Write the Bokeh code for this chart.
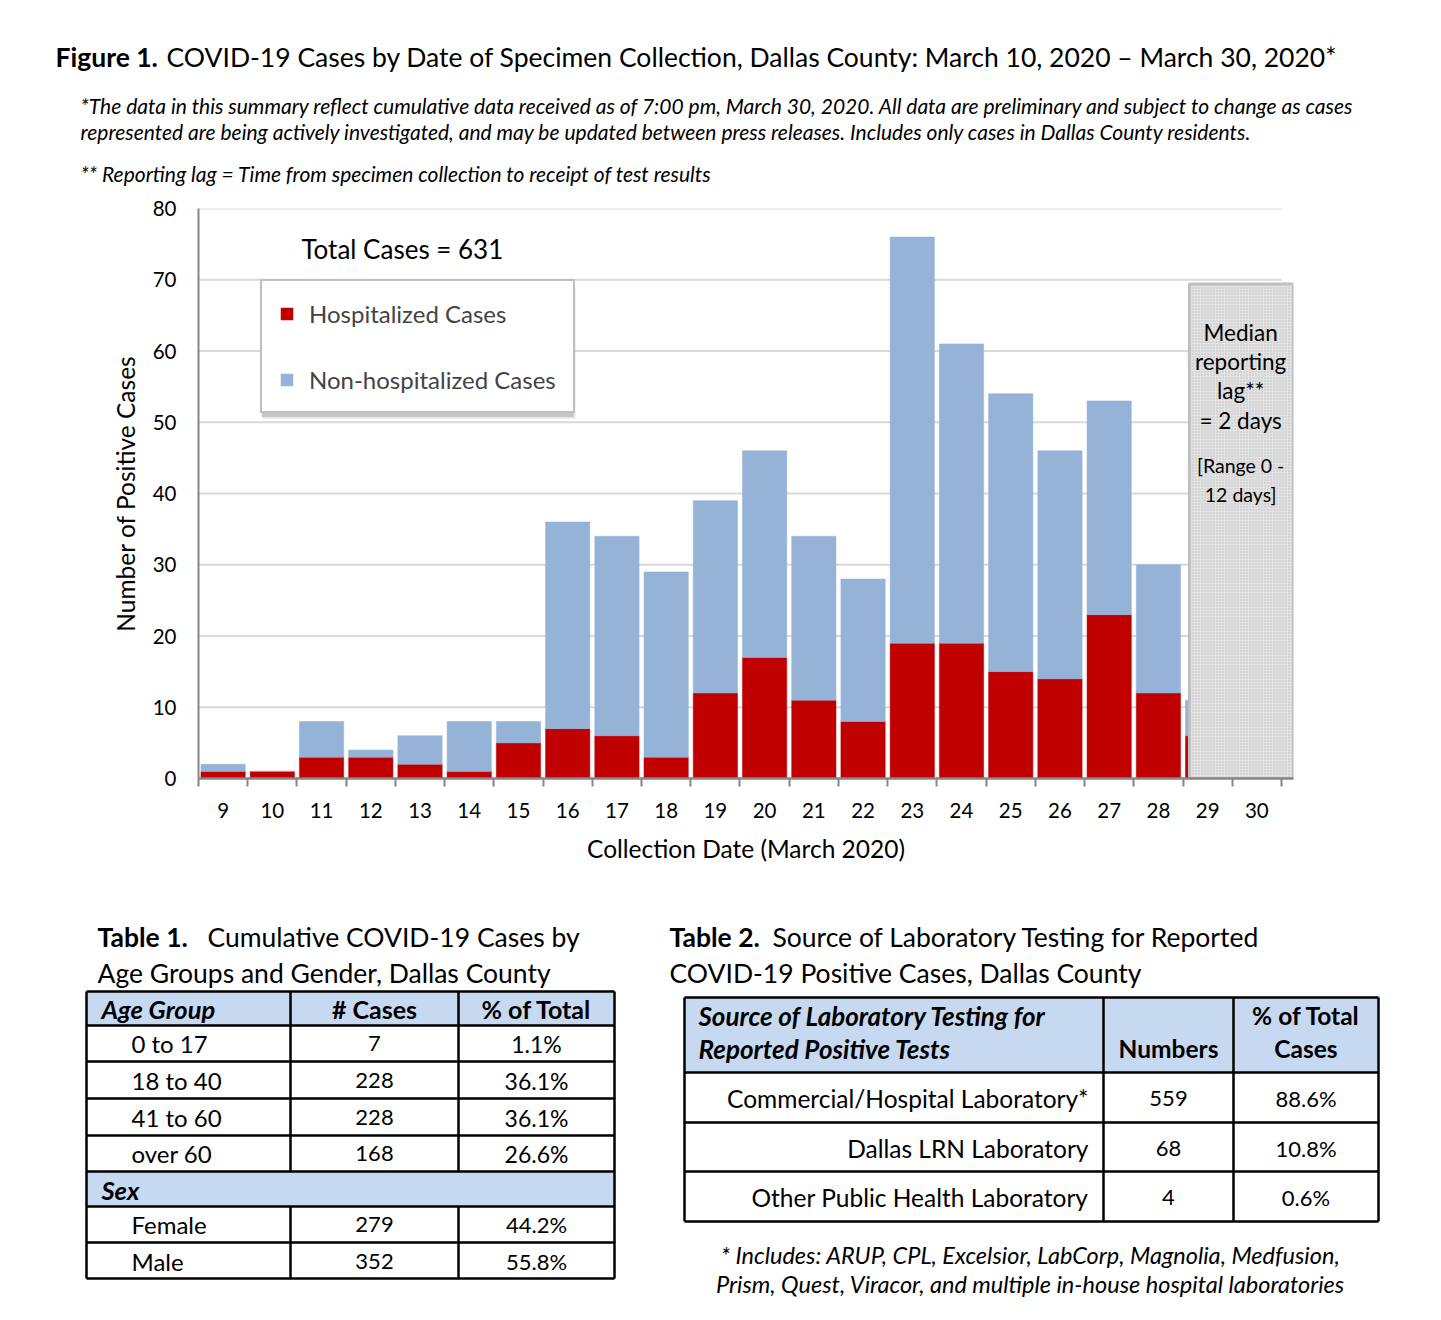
from bokeh.plotting import figure
from bokeh.models import ColumnDataSource, Range1d, FixedTicker, Legend, LegendItem, Label
from bokeh.layouts import column
from bokeh.embed import file_html
from bokeh.resources import INLINE
from bokeh.core.properties import value

FONT = "Lato"

# ---------------- data ----------------
days = [9, 10, 11, 12, 13, 14, 15, 16, 17, 18, 19, 20, 21, 22, 23, 24, 25, 26, 27, 28, 29, 30]
hospitalized = [1, 1, 3, 3, 2, 1, 5, 7, 6, 3, 12, 17, 11, 8, 19, 19, 15, 14, 23, 12, 6, 0]
non_hospitalized = [1, 0, 5, 1, 4, 7, 3, 29, 28, 26, 27, 29, 23, 20, 57, 42, 39, 32, 30, 18, 5, 0]
y_ticks = [0, 10, 20, 30, 40, 50, 60, 70, 80]
series_names = ["Hospitalized Cases", "Non-hospitalized Cases"]
total_cases = 631

age_groups = ["0 to 17", "18 to 40", "41 to 60", "over 60"]
age_cases = ["7", "228", "228", "168"]
age_pct = ["1.1%", "36.1%", "36.1%", "26.6%"]
sex_groups = ["Female", "Male"]
sex_cases = ["279", "352"]
sex_pct = ["44.2%", "55.8%"]

lab_sources = ["Commercial/Hospital Laboratory*", "Dallas LRN Laboratory", "Other Public Health Laboratory"]
lab_numbers = ["559", "68", "4"]
lab_pct = ["88.6%", "10.8%", "0.6%"]

RED = "#C00000"
BLUE = "#95B3D7"
HDR = "#C6D9F1"
W = 1436


def blank(h):
    p = figure(width=W, height=h, x_range=Range1d(0, W), y_range=Range1d(h, 0),
               output_backend="svg", toolbar_location=None, title=None,
               x_axis_type=None, y_axis_type=None, min_border=0,
               outline_line_color=None, frame_align=False)
    p.grid.visible = False
    return p


def txt(p, x, y, s, size, style="normal", align="left", color="#000000"):
    if not isinstance(s, list):
        s = [s]
    if not isinstance(x, list):
        x = [x] * len(s)
    if not isinstance(y, list):
        y = [y] * len(s)
    p.text(x=x, y=y, text=s, text_font=value(FONT), text_font_size=f"{size}px",
           text_font_style=style, text_align=align, text_baseline="middle",
           text_color=color)


# ---------------- header ----------------
hd = blank(190)
txt(hd, 55, 56, "Figure 1.", 26.5, "bold")
txt(hd, 166, 56, "COVID-19 Cases by Date of Specimen Collection, Dallas County: March 10, 2020 \u2013 March 30, 2020*", 26.5)
txt(hd, 80, 105, "*The data in this summary reflect cumulative data received as of 7:00 pm, March 30, 2020.  All data are preliminary and subject to change as cases", 21, "italic")
txt(hd, 80, 131, "represented are being actively investigated, and may be updated between press releases. Includes only cases in Dallas County residents.", 21, "italic")
txt(hd, 80, 173, "** Reporting lag = Time from specimen collection to receipt of test results", 21, "italic")

# ---------------- chart ----------------
src = ColumnDataSource(dict(day=days, hosp=hospitalized, nonhosp=non_hospitalized))

ch = figure(width=W, height=700, x_range=Range1d(8.5, 30.744), y_range=Range1d(0, 80),
            output_backend="svg", toolbar_location=None, title=None,
            min_border_left=198, min_border_right=W - 1293, min_border_top=18,
            min_border_bottom=112, outline_line_color=None, frame_align=False)
ch.xgrid.visible = False
ch.ygrid.visible = False

grid_y = y_ticks[1:]
ch.segment(x0=[8.5] * len(grid_y), x1=[30.5] * len(grid_y), y0=grid_y, y1=grid_y,
           line_color="#d9d9d9", line_width=2)

rs = ch.vbar_stack(["hosp", "nonhosp"], x="day", width=0.9, source=src,
                   fill_color=[RED, BLUE], line_color=[RED, BLUE], line_width=0.5)

# reporting-lag shaded box
ch.quad(left=[28.63], right=[30.744], bottom=[0], top=[69.4],
        fill_color="#e2e2e2", line_color="#bfbfbf", line_width=3,
        hatch_pattern="dot", hatch_color="#bdbdbd", hatch_scale=3, hatch_weight=1)

for yy, s in zip([62.6, 58.5, 54.4, 50.3], ["Median", "reporting", "lag**", "= 2 days"]):
    ch.add_layout(Label(x=29.67, y=yy, text=s, text_align="center", text_baseline="middle",
                        text_font=FONT, text_font_size="22.5px", text_color="#000000"))
for yy, s in zip([44.0, 39.9], ["[Range 0 -", "12 days]"]):
    ch.add_layout(Label(x=29.67, y=yy, text=s, text_align="center", text_baseline="middle",
                        text_font=FONT, text_font_size="19.5px", text_color="#000000"))

ch.add_layout(Label(x=10.59, y=74.3, text=f"Total Cases = {total_cases}", text_align="left",
                    text_baseline="middle", text_font=FONT, text_font_size="26px",
                    text_color="#000000"))

# soft legend shadow
ch.quad(left=[9.80], right=[16.16], bottom=[50.5], top=[68.9],
        fill_color="#9a9a9a", fill_alpha=0.25, line_color=None)
ch.quad(left=[9.78], right=[16.12], bottom=[50.75], top=[69.1],
        fill_color="#8a8a8a", fill_alpha=0.35, line_color=None)

legend = Legend(items=[LegendItem(label=series_names[0], renderers=[rs[0]]),
                       LegendItem(label=series_names[1], renderers=[rs[1]])],
                location=(62, 365), orientation="vertical",
                border_line_color="#808080", border_line_width=2,
                background_fill_color="white", background_fill_alpha=1.0,
                label_text_font=FONT, label_text_font_size="24px",
                glyph_width=15, glyph_height=15, label_height=30, spacing=36,
                padding=17, margin=0, label_standoff=15)
ch.add_layout(legend)

minor = [d - 0.5 for d in days] + [days[-1] + 0.5]
ch.xaxis.ticker = FixedTicker(ticks=days, minor_ticks=minor)
ch.xaxis.major_tick_line_color = None
ch.xaxis.major_tick_out = 0
ch.xaxis.major_tick_in = 0
ch.xaxis.minor_tick_line_color = "#868686"
ch.xaxis.minor_tick_line_width = 2
ch.xaxis.minor_tick_out = 8
ch.xaxis.minor_tick_in = 0
ch.xaxis.axis_line_color = "#868686"
ch.xaxis.axis_line_width = 2.5
ch.xaxis.major_label_standoff = 16
ch.xaxis.major_label_text_font = FONT
ch.xaxis.major_label_text_font_size = "20.5px"
ch.xaxis.major_label_text_color = "#000000"
ch.xaxis.axis_label = "Collection Date (March 2020)"
ch.xaxis.axis_label_text_font = FONT
ch.xaxis.axis_label_text_font_size = "24.5px"
ch.xaxis.axis_label_text_font_style = "normal"
ch.xaxis.axis_label_text_color = "#000000"
ch.xaxis.axis_label_standoff = 13

ch.yaxis.ticker = FixedTicker(ticks=y_ticks)
ch.yaxis.major_tick_line_color = None
ch.yaxis.major_tick_out = 0
ch.yaxis.major_tick_in = 0
ch.yaxis.minor_tick_line_color = None
ch.yaxis.axis_line_color = "#868686"
ch.yaxis.axis_line_width = 2
ch.yaxis.major_label_standoff = 22
ch.yaxis.major_label_text_font = FONT
ch.yaxis.major_label_text_font_size = "20.5px"
ch.yaxis.major_label_text_color = "#000000"
ch.yaxis.axis_label = "Number of Positive Cases"
ch.yaxis.axis_label_text_font = FONT
ch.yaxis.axis_label_text_font_size = "24.5px"
ch.yaxis.axis_label_text_font_style = "normal"
ch.yaxis.axis_label_text_color = "#000000"
ch.yaxis.axis_label_standoff = 10

# ---------------- tables ----------------
tb = blank(426)

# Table 1
txt(tb, 97, 46, "Table 1.", 26.5, "bold")
txt(tb, 207, 46, "Cumulative COVID-19 Cases by", 26.5)
txt(tb, 97, 82, "Age Groups and Gender, Dallas County", 26.5)

t1x = [86, 290, 458, 614]
t1y = [101, 135, 171, 208, 245, 281, 316, 352, 388]
tb.quad(left=[t1x[0], t1x[0]], right=[t1x[-1], t1x[-1]], top=[t1y[0], t1y[5]],
        bottom=[t1y[1], t1y[6]], fill_color=HDR, line_color=None)
tb.multi_line(xs=[[t1x[0], t1x[-1]] for _ in t1y], ys=[[yy, yy] for yy in t1y],
              line_color="#000000", line_width=2.5)
tb.multi_line(xs=[[xx, xx] for xx in [t1x[0], t1x[-1]]], ys=[[t1y[0], t1y[-1]]] * 2,
              line_color="#000000", line_width=2.5)
tb.multi_line(xs=[[xx, xx] for xx in t1x[1:3]] * 2,
              ys=[[t1y[0], t1y[5]]] * 2 + [[t1y[6], t1y[-1]]] * 2,
              line_color="#000000", line_width=2.5)

c1 = (t1x[1] + t1x[2]) / 2
c2 = (t1x[2] + t1x[3]) / 2
txt(tb, 101, 118, "Age Group", 25.5, "bold italic")
txt(tb, c1, 118, "# Cases", 25, "bold", "center")
txt(tb, c2, 118, "% of Total", 25, "bold", "center")
row_y1 = [153, 190, 227, 263]
txt(tb, 131, row_y1, age_groups, 24)
txt(tb, c1, row_y1, age_cases, 22, align="center")
txt(tb, c2, row_y1, age_pct, 23, align="center")
txt(tb, 101, 299, "Sex", 25.5, "bold italic")
row_y2 = [334, 371]
txt(tb, 131, row_y2, sex_groups, 24)
txt(tb, c1, row_y2, sex_cases, 22, align="center")
txt(tb, c2, row_y2, sex_pct, 22, align="center")

# Table 2
txt(tb, 669, 46, "Table 2.", 26.5, "bold")
txt(tb, 772, 46, "Source of Laboratory Testing for Reported", 26.5)
txt(tb, 669, 82, "COVID-19 Positive Cases, Dallas County", 26.5)

t2x = [684, 1103, 1233, 1378]
t2y = [107, 182, 232, 281, 331]
tb.quad(left=[t2x[0]], right=[t2x[-1]], top=[t2y[0]], bottom=[t2y[1]],
        fill_color=HDR, line_color=None)
tb.multi_line(xs=[[t2x[0], t2x[-1]] for _ in t2y], ys=[[yy, yy] for yy in t2y],
              line_color="#000000", line_width=2.5)
tb.multi_line(xs=[[xx, xx] for xx in t2x], ys=[[t2y[0], t2y[-1]]] * len(t2x),
              line_color="#000000", line_width=2.5)

d1 = (t2x[1] + t2x[2]) / 2
d2 = (t2x[2] + t2x[3]) / 2
txt(tb, 698, 125, "Source of Laboratory Testing for", 26, "bold italic")
txt(tb, 698, 158, "Reported Positive Tests", 26, "bold italic")
txt(tb, d1, 158, "Numbers", 24.5, "bold", "center")
txt(tb, d2, 125, "% of Total", 24.5, "bold", "center")
txt(tb, d2, 158, "Cases", 24.5, "bold", "center")
row_y3 = [208, 258, 307]
txt(tb, 1088, row_y3, lab_sources, 24.5, align="right")
txt(tb, d1, row_y3, lab_numbers, 22, align="center")
txt(tb, d2, row_y3, lab_pct, 22, align="center")

txt(tb, 1030, 364, "* Includes: ARUP, CPL, Excelsior, LabCorp, Magnolia, Medfusion,", 23.5, "italic", "center")
txt(tb, 1030, 393, "Prism, Quest, Viracor, and multiple in-house hospital laboratories", 23.5, "italic", "center")

layout = column(hd, ch, tb, spacing=0)
open("out.html", "w").write(file_html(layout, INLINE))
